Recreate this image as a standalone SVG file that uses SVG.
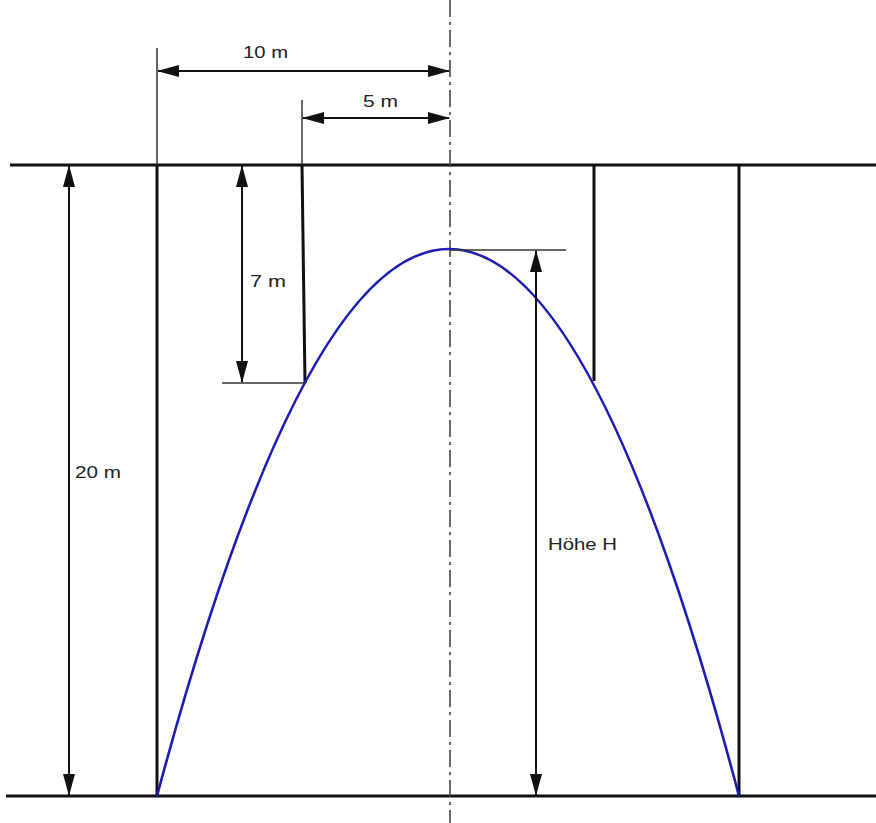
<svg xmlns="http://www.w3.org/2000/svg" width="876" height="823" viewBox="0 0 876 823">
<style>
.main{stroke:#111;stroke-width:3;fill:none}
.dim{stroke:#111;stroke-width:2;fill:none}
.ext{stroke:#333;stroke-width:1.5;fill:none}
.axis{stroke:#444;stroke-width:1.6;fill:none;stroke-dasharray:17 5 3 5}
.curve{stroke:#1c1cb4;stroke-width:2.6;fill:none}
.lbl{font-family:"Liberation Sans",Arial,sans-serif;font-size:17px;fill:#222}
</style>
<defs>
<marker id="ah" markerUnits="userSpaceOnUse" markerWidth="22" markerHeight="12" viewBox="0 0 22 12" refX="21" refY="6" orient="auto-start-reverse">
<path d="M0,0 L22,6 L0,12 Z" fill="#111"/>
</marker>
</defs>
<rect width="876" height="823" fill="#fff"/>
<g id="frame">
<line class="main" x1="10" y1="165" x2="876" y2="165"/>
<line class="main" x1="6" y1="796" x2="876" y2="796"/>
<line class="main" x1="157" y1="165" x2="157" y2="796"/>
<line class="main" x1="739" y1="165" x2="739" y2="796"/>
<line class="main" x1="302" y1="165" x2="305" y2="383"/>
<line class="main" x1="594" y1="165" x2="594" y2="381"/>
</g>
<g id="axis">
<line class="axis" x1="450" y1="0" x2="450" y2="823"/>
</g>
<g id="parabola">
<path class="curve" d="M157,796 Q450,-298 739,796"/>
</g>
<g id="connectors">
<line class="ext" x1="157" y1="48" x2="157" y2="165"/>
<line class="ext" x1="302" y1="100" x2="302" y2="165"/>
<line class="ext" x1="222" y1="383" x2="305" y2="383"/>
<line class="ext" x1="450" y1="250" x2="566" y2="250"/>
<line class="dim" x1="158" y1="71" x2="449" y2="71" marker-start="url(#ah)" marker-end="url(#ah)"/>
<line class="dim" x1="303" y1="118" x2="449" y2="118" marker-start="url(#ah)" marker-end="url(#ah)"/>
<line class="dim" x1="242" y1="166" x2="242" y2="382" marker-start="url(#ah)" marker-end="url(#ah)"/>
<line class="dim" x1="69" y1="166" x2="69" y2="795" marker-start="url(#ah)" marker-end="url(#ah)"/>
<line class="dim" x1="536" y1="251" x2="536" y2="795" marker-start="url(#ah)" marker-end="url(#ah)"/>
</g>
<g id="labels">
<text class="lbl" x="243" y="58" textLength="45" lengthAdjust="spacingAndGlyphs">10 m</text>
<text class="lbl" x="363" y="107" textLength="35" lengthAdjust="spacingAndGlyphs">5 m</text>
<text class="lbl" x="250" y="287" textLength="36" lengthAdjust="spacingAndGlyphs">7 m</text>
<text class="lbl" x="75" y="478" textLength="46" lengthAdjust="spacingAndGlyphs">20 m</text>
<text class="lbl" x="548" y="550" textLength="69" lengthAdjust="spacingAndGlyphs">Höhe H</text>
</g>
</svg>
